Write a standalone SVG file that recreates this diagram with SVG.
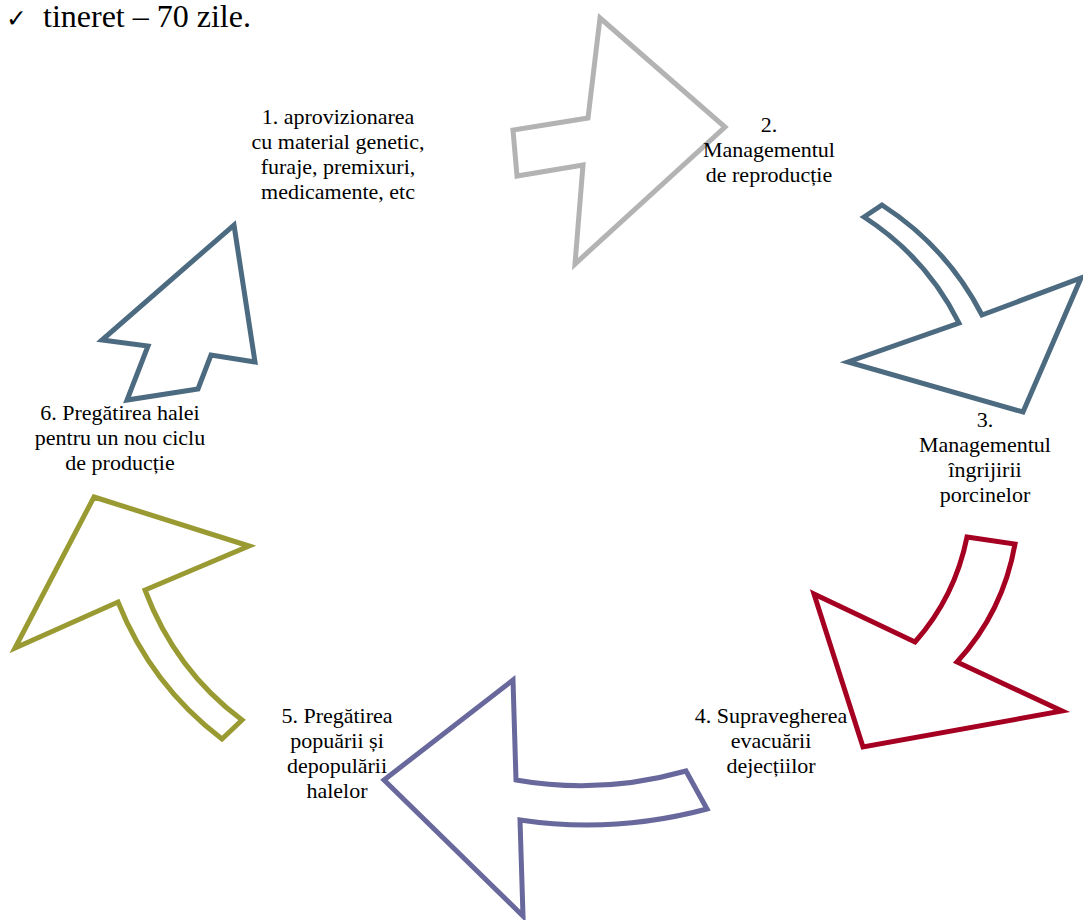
<svg xmlns="http://www.w3.org/2000/svg" width="1083" height="920" viewBox="0 0 1083 920">
<style>
.arr{fill:#fff;stroke-width:5;stroke-linejoin:miter;stroke-miterlimit:10}
.lbl{font-size:22px;fill:#000;text-anchor:middle}
</style>
<rect width="1083" height="920" fill="#fff"/>
<g id="header">
<text x="6" y="27" font-family="DejaVu Sans, sans-serif" font-size="25" fill="#000">✓</text>
<text x="43" y="27" font-family="Liberation Serif, serif" font-size="32" fill="#000">tineret – 70 zile.</text>
</g>
<g id="connectors">
<path id="arrow1" class="arr" stroke="#4d6b80" d="M234,225 L255,362 L211,355 L198,389 L127,400 L148,346 L102,340 Z"/>
<path id="arrow2" class="arr" stroke="#b3b3b3" d="M600,18 L725,127 L575,264 L583,165 L517,176 L513,130 L588,118 Z"/>
<path id="arrow3" class="arr" stroke="#4d6b80" d="M864,217 L882,205 Q947,247 982,315 L1081,278 L1023,412 L848,362 L959,323 Q926,257 864,217 Z"/>
<path id="arrow4" class="arr" stroke="#a50021" d="M967,537 L1015,544 Q1003,612 957,662 L1062,711 L863,747 L814,594 L915,642 Q955,597 967,537 Z"/>
<path id="arrow5" class="arr" stroke="#68689c" d="M513,680 L516,780 Q601,795 686,771 L707,809 Q613,834 520,820 L523,916 L384,780 Z"/>
<path id="arrow6" class="arr" stroke="#9a9a33" d="M94,497 L249,546 L145,590 Q175,670 242,720 L222,739 Q151,685 118,602 L15,648 Z"/>
</g>
<g id="node1" font-family="Liberation Serif, serif">
<text class="lbl" x="338" y="124">1. aprovizionarea</text>
<text class="lbl" x="338" y="149">cu material genetic,</text>
<text class="lbl" x="338" y="174">furaje, premixuri,</text>
<text class="lbl" x="338" y="199">medicamente, etc</text>
</g>
<g id="node2" font-family="Liberation Serif, serif">
<text class="lbl" x="769" y="132">2.</text>
<text class="lbl" x="769" y="157">Managementul</text>
<text class="lbl" x="769" y="182">de reproducție</text>
</g>
<g id="node3" font-family="Liberation Serif, serif">
<text class="lbl" x="985" y="427">3.</text>
<text class="lbl" x="985" y="452">Managementul</text>
<text class="lbl" x="985" y="477">îngrijirii</text>
<text class="lbl" x="985" y="502">porcinelor</text>
</g>
<g id="node4" font-family="Liberation Serif, serif">
<text class="lbl" x="771" y="723">4. Supravegherea</text>
<text class="lbl" x="771" y="748">evacuării</text>
<text class="lbl" x="771" y="773">dejecțiilor</text>
</g>
<g id="node5" font-family="Liberation Serif, serif">
<text class="lbl" x="337" y="723">5. Pregătirea</text>
<text class="lbl" x="337" y="748">popuării și</text>
<text class="lbl" x="337" y="773">depopulării</text>
<text class="lbl" x="337" y="798">halelor</text>
</g>
<g id="node6" font-family="Liberation Serif, serif">
<text class="lbl" x="120" y="420">6. Pregătirea halei</text>
<text class="lbl" x="120" y="445">pentru un nou ciclu</text>
<text class="lbl" x="120" y="470">de producție</text>
</g>
</svg>
